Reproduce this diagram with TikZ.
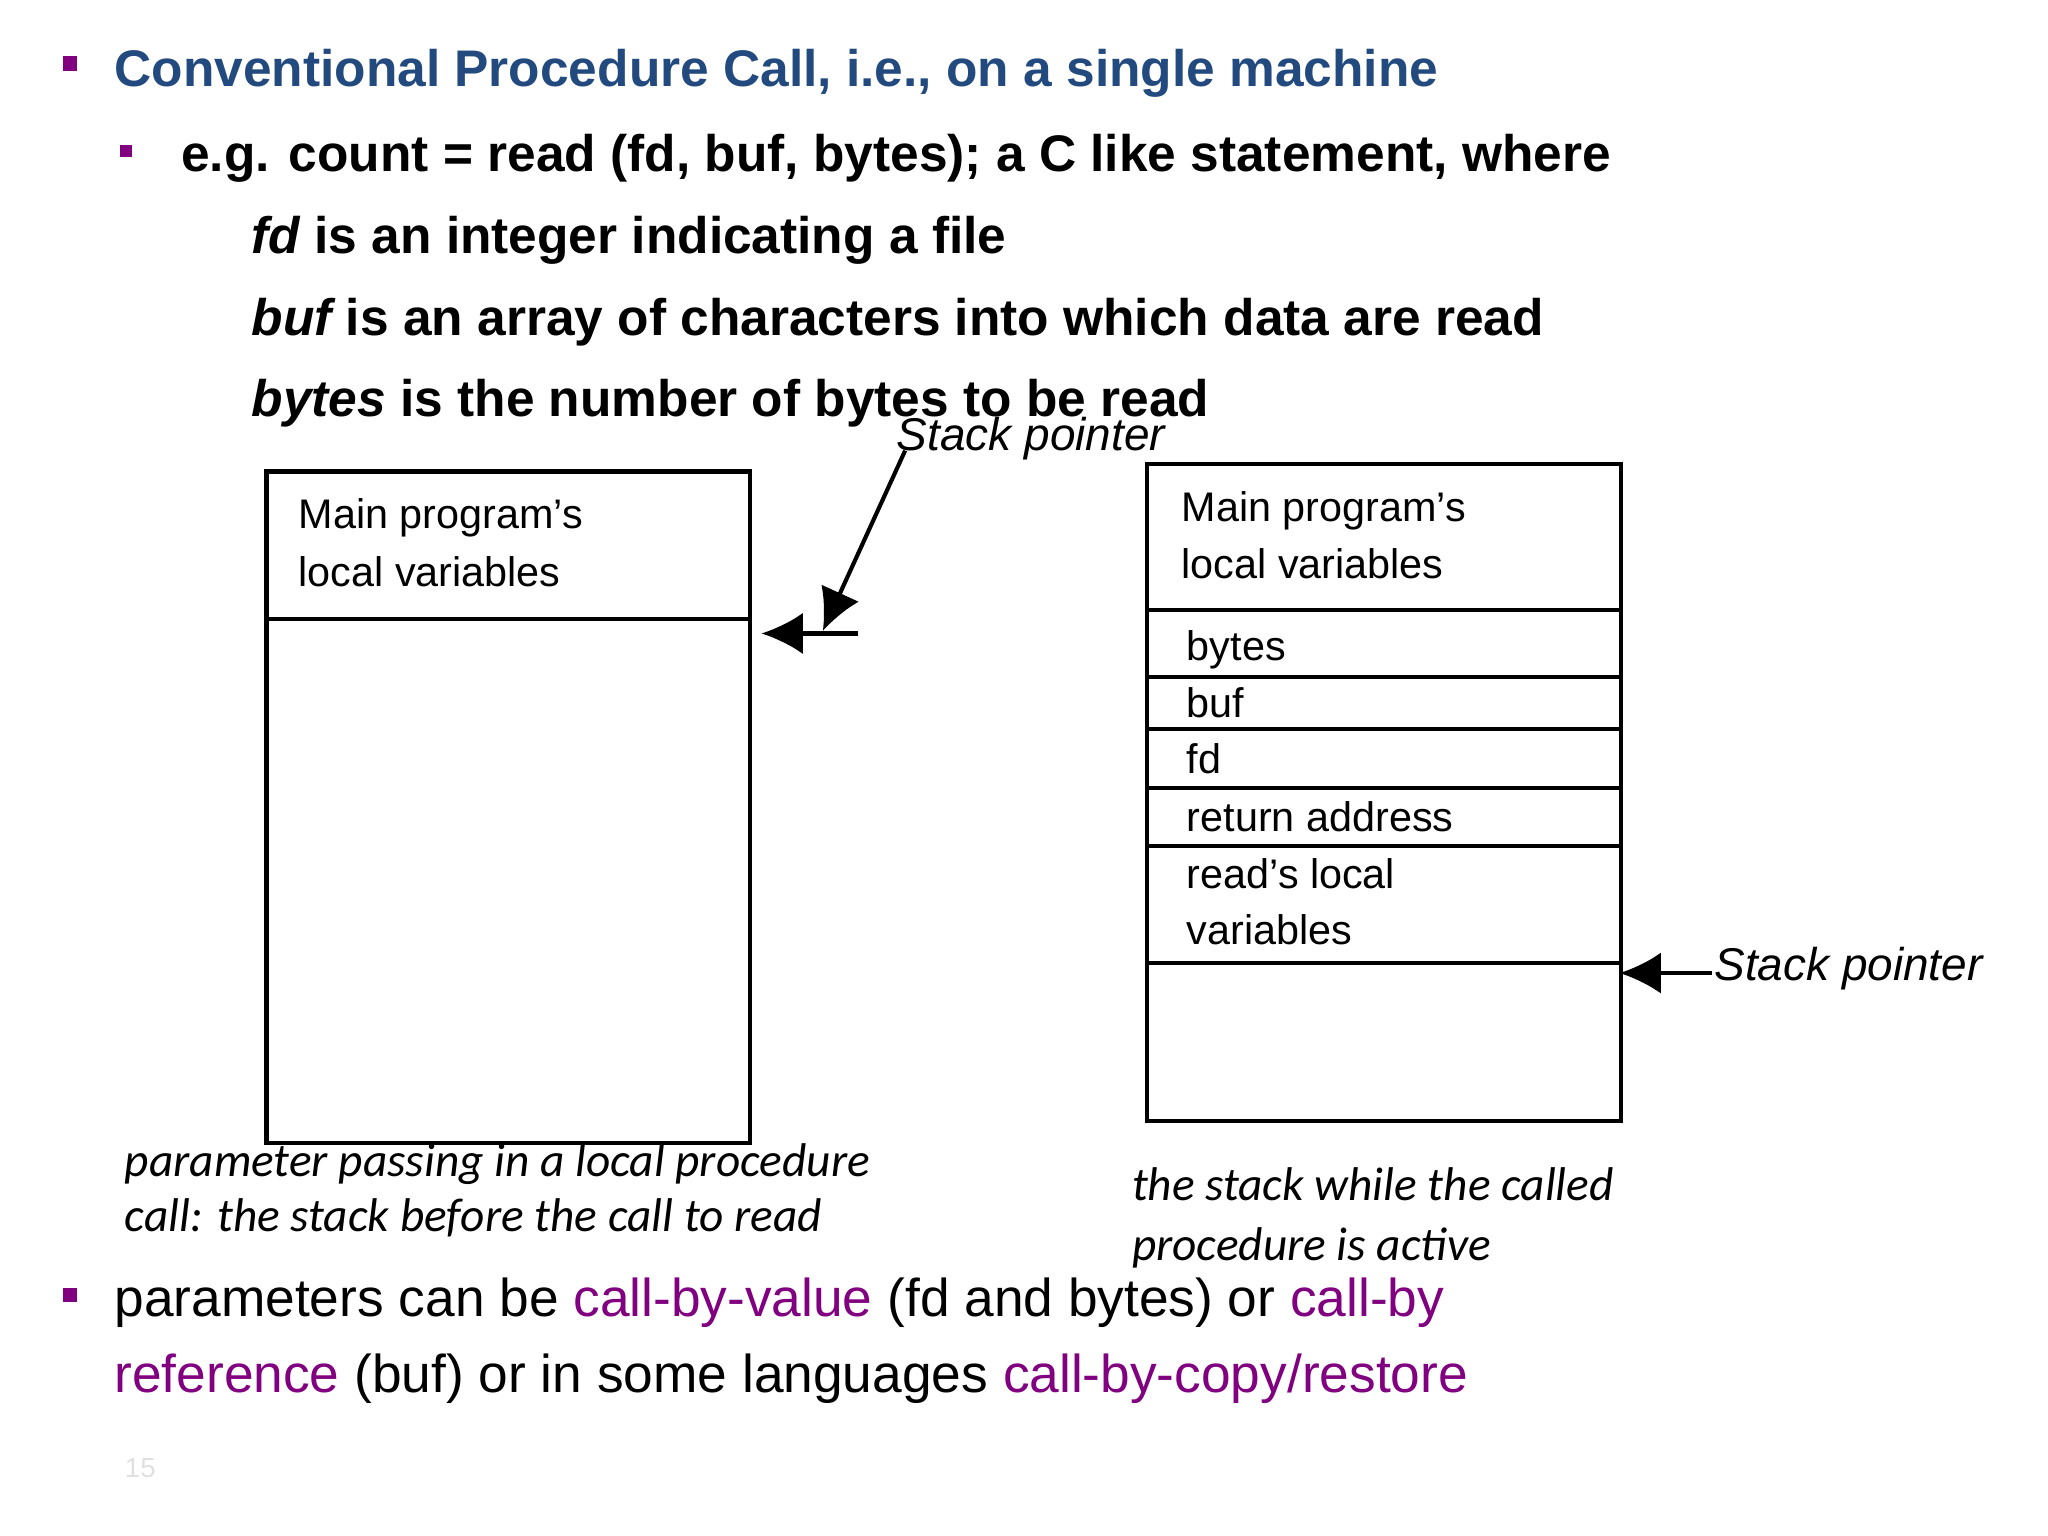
\documentclass[tikz,border=0pt]{standalone}
\usepackage{fontspec}
\setmainfont{Liberation Sans}
\newfontfamily\calfont{Carlito}
\usetikzlibrary{arrows.meta}
\definecolor{tblue}{HTML}{234A7E}
\definecolor{purp}{HTML}{800080}
\begin{document}
\begin{tikzpicture}[x=0.01cm,y=-0.01cm,
  txt/.style={anchor=base west,inner sep=0},
  big/.style={txt,font=\fontsize{11.2}{13}\selectfont\bfseries},
  box/.style={draw,line width=0.9pt},
  cell/.style={txt,font=\fontsize{9}{11}\selectfont},
  sp/.style={txt,font=\fontsize{10}{12}\selectfont\itshape},
  captxt/.style={txt,font=\calfont\fontsize{10.3}{12}\selectfont\itshape},
  arr/.style={-{Latex[length=9pt,width=9pt]},line width=0.9pt}]
\useasboundingbox (0,0) rectangle (1568,1176);
\fill[purp] (48,43) rectangle (59,54);
\fill[purp] (92,111) rectangle (101,120);
\fill[purp] (48,986) rectangle (59,997);
\node[big,text=tblue] (t1) at (87,66) {Conventional Procedure Call, i.e., on a single machine};
\node[big] (t2) at (138,131) {e.g. count = read (fd, buf, bytes); a C like statement, where};
\node[big] (t3) at (192,194) {\itshape fd\upshape\ is an integer indicating a file};
\node[big] (t4) at (192,257) {\itshape buf\upshape\ is an array of characters into which data are read};
\node[big] (t5) at (192,319) {\itshape bytes\upshape\ is the number of bytes to be read};
% left stack
\draw[box] (204,361) rectangle (574,875);
\draw[box] (204,474) -- (574,474);
\node[cell] (l1) at (228,405) {Main program's};
\node[cell] (l2) at (228,449) {local variables};
% right stack
\draw[box] (878,355) rectangle (1241,858);
\foreach \y in {467,518,558,603,648,737} \draw[box] (878,\y) -- (1241,\y);
\node[cell] (r1) at (904,399) {Main program's};
\node[cell] (r2) at (904,443) {local variables};
\node[cell] (r3) at (908,506) {bytes};
\node[cell] (r4) at (908,549) {buf};
\node[cell] (r5) at (908,592) {fd};
\node[cell] (r6) at (908,637) {return address};
\node[cell] (r7) at (908,680) {read's local};
\node[cell] (r8) at (908,723) {variables};
% stack pointers
\node[sp] (sp1) at (686,345) {Stack pointer};
\coordinate (a1) at (693,345);
\coordinate (a1e) at (630,483);
\draw[arr] (a1) -- (a1e);
\coordinate (h1) at (657,485);
\coordinate (h1e) at (583,485);
\draw[arr] (h1) -- (h1e);
\node[sp] (sp2) at (1312,751) {Stack pointer};
\coordinate (h2) at (1311,745);
\coordinate (h2e) at (1240,745);
\draw[arr] (h2) -- (h2e);
% captions
\node[captxt] (c1) at (95,901) {parameter passing in a local procedure};
\node[captxt] (c2) at (95,943) {call: the stack before the call to read};
\node[captxt] (c3) at (866,919) {the stack while the called};
\node[captxt] (c4) at (866,965) {procedure is active};
% bottom bullet
\node[txt,font=\fontsize{11.6}{14}\selectfont] (b1) at (87,1008) {parameters can be \textcolor{purp}{call-by-value} (fd and bytes) or \textcolor{purp}{call-by}};
\node[txt,font=\fontsize{11.6}{14}\selectfont] (b2) at (87,1066) {\textcolor{purp}{reference} (buf) or in some languages \textcolor{purp}{call-by-copy/restore}};
\node[txt,font=\fontsize{6}{7}\selectfont,text=black!12] (pn) at (95,1131) {15};
\end{tikzpicture}
\end{document}
